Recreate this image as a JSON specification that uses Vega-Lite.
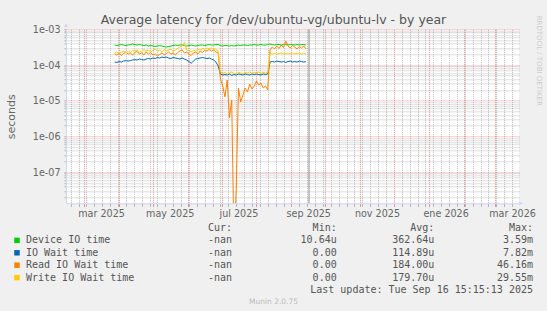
{
"$schema": "https://vega.github.io/schema/vega-lite/v6.json",
"width": 453, "height": 174,
"autosize": "none",
"padding": {"left": 66, "top": 29.3, "right": 28, "bottom": 107.7},
"background": "#F0F0F0",
"config": {"view": {"fill": "#FFFFFF", "stroke": null}, "font": "DejaVu Sans"},
"resolve": {"scale": {"x": "independent", "y": "independent"}},
"layer": [
{
"data": {"values": [
{"t":"2025-03-28","s":"Device IO time","v":3.63e-4},{"t":"2025-03-30","s":"Device IO time","v":3.51e-4},{"t":"2025-04-01","s":"Device IO time","v":3.63e-4},{"t":"2025-04-03","s":"Device IO time","v":3.75e-4},{"t":"2025-04-05","s":"Device IO time","v":3.63e-4},{"t":"2025-04-07","s":"Device IO time","v":3.51e-4},{"t":"2025-04-09","s":"Device IO time","v":3.63e-4},{"t":"2025-04-11","s":"Device IO time","v":3.75e-4},{"t":"2025-04-13","s":"Device IO time","v":3.87e-4},{"t":"2025-04-15","s":"Device IO time","v":3.75e-4},{"t":"2025-04-17","s":"Device IO time","v":3.63e-4},{"t":"2025-04-19","s":"Device IO time","v":3.75e-4},{"t":"2025-04-21","s":"Device IO time","v":3.63e-4},{"t":"2025-04-23","s":"Device IO time","v":3.51e-4},{"t":"2025-04-25","s":"Device IO time","v":3.63e-4},{"t":"2025-04-27","s":"Device IO time","v":3.40e-4},{"t":"2025-04-29","s":"Device IO time","v":3.51e-4},{"t":"2025-05-01","s":"Device IO time","v":3.40e-4},{"t":"2025-05-03","s":"Device IO time","v":3.29e-4},{"t":"2025-05-05","s":"Device IO time","v":3.40e-4},{"t":"2025-05-07","s":"Device IO time","v":3.51e-4},{"t":"2025-05-09","s":"Device IO time","v":3.40e-4},{"t":"2025-05-11","s":"Device IO time","v":3.29e-4},{"t":"2025-05-13","s":"Device IO time","v":3.19e-4},{"t":"2025-05-15","s":"Device IO time","v":3.29e-4},{"t":"2025-05-17","s":"Device IO time","v":3.40e-4},{"t":"2025-05-19","s":"Device IO time","v":3.51e-4},{"t":"2025-05-21","s":"Device IO time","v":3.63e-4},{"t":"2025-05-23","s":"Device IO time","v":3.51e-4},{"t":"2025-05-25","s":"Device IO time","v":3.63e-4},{"t":"2025-05-27","s":"Device IO time","v":3.63e-4},{"t":"2025-05-29","s":"Device IO time","v":3.51e-4},{"t":"2025-05-31","s":"Device IO time","v":3.40e-4},{"t":"2025-06-02","s":"Device IO time","v":3.51e-4},{"t":"2025-06-04","s":"Device IO time","v":3.63e-4},{"t":"2025-06-06","s":"Device IO time","v":3.51e-4},{"t":"2025-06-08","s":"Device IO time","v":3.40e-4},{"t":"2025-06-10","s":"Device IO time","v":3.51e-4},{"t":"2025-06-12","s":"Device IO time","v":3.63e-4},{"t":"2025-06-14","s":"Device IO time","v":3.63e-4},{"t":"2025-06-16","s":"Device IO time","v":3.51e-4},{"t":"2025-06-18","s":"Device IO time","v":3.63e-4},{"t":"2025-06-20","s":"Device IO time","v":3.75e-4},{"t":"2025-06-22","s":"Device IO time","v":3.63e-4},{"t":"2025-06-24","s":"Device IO time","v":3.63e-4},{"t":"2025-06-26","s":"Device IO time","v":3.75e-4},{"t":"2025-06-28","s":"Device IO time","v":3.75e-4},{"t":"2025-06-30","s":"Device IO time","v":3.51e-4},{"t":"2025-07-02","s":"Device IO time","v":3.40e-4},{"t":"2025-07-04","s":"Device IO time","v":3.51e-4},{"t":"2025-07-06","s":"Device IO time","v":3.51e-4},{"t":"2025-07-08","s":"Device IO time","v":3.40e-4},{"t":"2025-07-10","s":"Device IO time","v":3.51e-4},{"t":"2025-07-12","s":"Device IO time","v":3.40e-4},{"t":"2025-07-14","s":"Device IO time","v":3.51e-4},{"t":"2025-07-16","s":"Device IO time","v":3.63e-4},{"t":"2025-07-18","s":"Device IO time","v":3.51e-4},{"t":"2025-07-20","s":"Device IO time","v":3.63e-4},{"t":"2025-07-22","s":"Device IO time","v":3.63e-4},{"t":"2025-07-24","s":"Device IO time","v":3.51e-4},{"t":"2025-07-26","s":"Device IO time","v":3.63e-4},{"t":"2025-07-28","s":"Device IO time","v":3.63e-4},{"t":"2025-07-30","s":"Device IO time","v":3.75e-4},{"t":"2025-08-01","s":"Device IO time","v":3.63e-4},{"t":"2025-08-03","s":"Device IO time","v":3.63e-4},{"t":"2025-08-05","s":"Device IO time","v":3.75e-4},{"t":"2025-08-07","s":"Device IO time","v":3.63e-4},{"t":"2025-08-09","s":"Device IO time","v":3.63e-4},{"t":"2025-08-11","s":"Device IO time","v":3.75e-4},{"t":"2025-08-13","s":"Device IO time","v":3.87e-4},{"t":"2025-08-15","s":"Device IO time","v":3.75e-4},{"t":"2025-08-17","s":"Device IO time","v":3.63e-4},{"t":"2025-08-19","s":"Device IO time","v":3.75e-4},{"t":"2025-08-21","s":"Device IO time","v":3.75e-4},{"t":"2025-08-23","s":"Device IO time","v":3.63e-4},{"t":"2025-08-25","s":"Device IO time","v":3.75e-4},{"t":"2025-08-27","s":"Device IO time","v":3.75e-4},{"t":"2025-08-29","s":"Device IO time","v":3.63e-4},{"t":"2025-08-31","s":"Device IO time","v":3.75e-4},{"t":"2025-09-02","s":"Device IO time","v":3.75e-4},{"t":"2025-09-04","s":"Device IO time","v":3.63e-4},{"t":"2025-09-06","s":"Device IO time","v":3.75e-4},{"t":"2025-09-08","s":"Device IO time","v":3.63e-4},{"t":"2025-09-10","s":"Device IO time","v":3.75e-4},{"t":"2025-09-12","s":"Device IO time","v":3.75e-4},{"t":"2025-09-14","s":"Device IO time","v":3.63e-4},
{"t":"2025-03-28","s":"IO Wait time","v":1.21e-4},{"t":"2025-03-30","s":"IO Wait time","v":1.18e-4},{"t":"2025-04-01","s":"IO Wait time","v":1.25e-4},{"t":"2025-04-03","s":"IO Wait time","v":1.21e-4},{"t":"2025-04-05","s":"IO Wait time","v":1.29e-4},{"t":"2025-04-07","s":"IO Wait time","v":1.33e-4},{"t":"2025-04-09","s":"IO Wait time","v":1.29e-4},{"t":"2025-04-11","s":"IO Wait time","v":1.33e-4},{"t":"2025-04-13","s":"IO Wait time","v":1.38e-4},{"t":"2025-04-15","s":"IO Wait time","v":1.42e-4},{"t":"2025-04-17","s":"IO Wait time","v":1.38e-4},{"t":"2025-04-19","s":"IO Wait time","v":1.47e-4},{"t":"2025-04-21","s":"IO Wait time","v":1.42e-4},{"t":"2025-04-23","s":"IO Wait time","v":1.38e-4},{"t":"2025-04-25","s":"IO Wait time","v":1.47e-4},{"t":"2025-04-27","s":"IO Wait time","v":1.52e-4},{"t":"2025-04-29","s":"IO Wait time","v":1.47e-4},{"t":"2025-05-01","s":"IO Wait time","v":1.57e-4},{"t":"2025-05-03","s":"IO Wait time","v":1.52e-4},{"t":"2025-05-05","s":"IO Wait time","v":1.62e-4},{"t":"2025-05-07","s":"IO Wait time","v":1.57e-4},{"t":"2025-05-09","s":"IO Wait time","v":1.67e-4},{"t":"2025-05-11","s":"IO Wait time","v":1.62e-4},{"t":"2025-05-13","s":"IO Wait time","v":1.67e-4},{"t":"2025-05-15","s":"IO Wait time","v":1.57e-4},{"t":"2025-05-17","s":"IO Wait time","v":1.52e-4},{"t":"2025-05-19","s":"IO Wait time","v":1.62e-4},{"t":"2025-05-21","s":"IO Wait time","v":1.57e-4},{"t":"2025-05-23","s":"IO Wait time","v":1.52e-4},{"t":"2025-05-25","s":"IO Wait time","v":1.47e-4},{"t":"2025-05-27","s":"IO Wait time","v":1.57e-4},{"t":"2025-05-29","s":"IO Wait time","v":1.47e-4},{"t":"2025-05-31","s":"IO Wait time","v":1.38e-4},{"t":"2025-06-02","s":"IO Wait time","v":1.25e-4},{"t":"2025-06-04","s":"IO Wait time","v":1.12e-4},{"t":"2025-06-06","s":"IO Wait time","v":1.29e-4},{"t":"2025-06-08","s":"IO Wait time","v":1.47e-4},{"t":"2025-06-10","s":"IO Wait time","v":1.52e-4},{"t":"2025-06-12","s":"IO Wait time","v":1.57e-4},{"t":"2025-06-14","s":"IO Wait time","v":1.62e-4},{"t":"2025-06-16","s":"IO Wait time","v":1.57e-4},{"t":"2025-06-18","s":"IO Wait time","v":1.52e-4},{"t":"2025-06-20","s":"IO Wait time","v":1.57e-4},{"t":"2025-06-22","s":"IO Wait time","v":1.47e-4},{"t":"2025-06-24","s":"IO Wait time","v":1.38e-4},{"t":"2025-06-26","s":"IO Wait time","v":1.21e-4},{"t":"2025-06-28","s":"IO Wait time","v":9.4e-5},{"t":"2025-06-30","s":"IO Wait time","v":5.6e-5},{"t":"2025-07-02","s":"IO Wait time","v":5.25e-5},{"t":"2025-07-04","s":"IO Wait time","v":5.4e-5},{"t":"2025-07-06","s":"IO Wait time","v":5.25e-5},{"t":"2025-07-08","s":"IO Wait time","v":5.6e-5},{"t":"2025-07-10","s":"IO Wait time","v":5.1e-5},{"t":"2025-07-12","s":"IO Wait time","v":5.4e-5},{"t":"2025-07-14","s":"IO Wait time","v":5.25e-5},{"t":"2025-07-16","s":"IO Wait time","v":5.6e-5},{"t":"2025-07-18","s":"IO Wait time","v":5.4e-5},{"t":"2025-07-20","s":"IO Wait time","v":5.25e-5},{"t":"2025-07-22","s":"IO Wait time","v":5.6e-5},{"t":"2025-07-24","s":"IO Wait time","v":5.4e-5},{"t":"2025-07-26","s":"IO Wait time","v":5.25e-5},{"t":"2025-07-28","s":"IO Wait time","v":5.6e-5},{"t":"2025-07-30","s":"IO Wait time","v":5.4e-5},{"t":"2025-08-01","s":"IO Wait time","v":5.6e-5},{"t":"2025-08-03","s":"IO Wait time","v":5.4e-5},{"t":"2025-08-05","s":"IO Wait time","v":5.25e-5},{"t":"2025-08-07","s":"IO Wait time","v":5.6e-5},{"t":"2025-08-09","s":"IO Wait time","v":5.4e-5},{"t":"2025-08-11","s":"IO Wait time","v":5.6e-5},{"t":"2025-08-13","s":"IO Wait time","v":1.21e-4},{"t":"2025-08-15","s":"IO Wait time","v":1.25e-4},{"t":"2025-08-17","s":"IO Wait time","v":1.21e-4},{"t":"2025-08-19","s":"IO Wait time","v":1.29e-4},{"t":"2025-08-21","s":"IO Wait time","v":1.25e-4},{"t":"2025-08-23","s":"IO Wait time","v":1.21e-4},{"t":"2025-08-25","s":"IO Wait time","v":1.25e-4},{"t":"2025-08-27","s":"IO Wait time","v":1.18e-4},{"t":"2025-08-29","s":"IO Wait time","v":1.25e-4},{"t":"2025-08-31","s":"IO Wait time","v":1.29e-4},{"t":"2025-09-02","s":"IO Wait time","v":1.21e-4},{"t":"2025-09-04","s":"IO Wait time","v":1.25e-4},{"t":"2025-09-06","s":"IO Wait time","v":1.21e-4},{"t":"2025-09-08","s":"IO Wait time","v":1.29e-4},{"t":"2025-09-10","s":"IO Wait time","v":1.25e-4},{"t":"2025-09-12","s":"IO Wait time","v":1.21e-4},{"t":"2025-09-14","s":"IO Wait time","v":1.25e-4},
{"t":"2025-03-28","s":"Read IO Wait time","v":2.03e-4},{"t":"2025-03-30","s":"Read IO Wait time","v":1.91e-4},{"t":"2025-04-01","s":"Read IO Wait time","v":2.17e-4},{"t":"2025-04-03","s":"Read IO Wait time","v":1.85e-4},{"t":"2025-04-05","s":"Read IO Wait time","v":2.10e-4},{"t":"2025-04-07","s":"Read IO Wait time","v":2.31e-4},{"t":"2025-04-09","s":"Read IO Wait time","v":2.03e-4},{"t":"2025-04-11","s":"Read IO Wait time","v":2.17e-4},{"t":"2025-04-13","s":"Read IO Wait time","v":1.91e-4},{"t":"2025-04-15","s":"Read IO Wait time","v":2.24e-4},{"t":"2025-04-17","s":"Read IO Wait time","v":2.39e-4},{"t":"2025-04-19","s":"Read IO Wait time","v":2.03e-4},{"t":"2025-04-21","s":"Read IO Wait time","v":2.17e-4},{"t":"2025-04-23","s":"Read IO Wait time","v":1.91e-4},{"t":"2025-04-25","s":"Read IO Wait time","v":2.31e-4},{"t":"2025-04-27","s":"Read IO Wait time","v":2.03e-4},{"t":"2025-04-29","s":"Read IO Wait time","v":2.24e-4},{"t":"2025-05-01","s":"Read IO Wait time","v":1.91e-4},{"t":"2025-05-03","s":"Read IO Wait time","v":2.03e-4},{"t":"2025-05-05","s":"Read IO Wait time","v":1.79e-4},{"t":"2025-05-07","s":"Read IO Wait time","v":1.97e-4},{"t":"2025-05-09","s":"Read IO Wait time","v":2.17e-4},{"t":"2025-05-11","s":"Read IO Wait time","v":1.91e-4},{"t":"2025-05-13","s":"Read IO Wait time","v":2.10e-4},{"t":"2025-05-15","s":"Read IO Wait time","v":2.31e-4},{"t":"2025-05-17","s":"Read IO Wait time","v":2.03e-4},{"t":"2025-05-19","s":"Read IO Wait time","v":2.17e-4},{"t":"2025-05-21","s":"Read IO Wait time","v":1.91e-4},{"t":"2025-05-23","s":"Read IO Wait time","v":2.24e-4},{"t":"2025-05-25","s":"Read IO Wait time","v":2.47e-4},{"t":"2025-05-27","s":"Read IO Wait time","v":2.63e-4},{"t":"2025-05-29","s":"Read IO Wait time","v":2.17e-4},{"t":"2025-05-31","s":"Read IO Wait time","v":2.31e-4},{"t":"2025-06-02","s":"Read IO Wait time","v":2.03e-4},{"t":"2025-06-04","s":"Read IO Wait time","v":1.85e-4},{"t":"2025-06-06","s":"Read IO Wait time","v":2.17e-4},{"t":"2025-06-08","s":"Read IO Wait time","v":2.31e-4},{"t":"2025-06-10","s":"Read IO Wait time","v":2.03e-4},{"t":"2025-06-12","s":"Read IO Wait time","v":2.47e-4},{"t":"2025-06-14","s":"Read IO Wait time","v":2.24e-4},{"t":"2025-06-16","s":"Read IO Wait time","v":2.55e-4},{"t":"2025-06-18","s":"Read IO Wait time","v":2.47e-4},{"t":"2025-06-20","s":"Read IO Wait time","v":2.72e-4},{"t":"2025-06-22","s":"Read IO Wait time","v":2.47e-4},{"t":"2025-06-24","s":"Read IO Wait time","v":2.63e-4},{"t":"2025-06-26","s":"Read IO Wait time","v":2.31e-4},{"t":"2025-06-28","s":"Read IO Wait time","v":2.17e-4},{"t":"2025-06-30","s":"Read IO Wait time","v":4.05e-5},{"t":"2025-07-02","s":"Read IO Wait time","v":2.58e-5},{"t":"2025-07-04","s":"Read IO Wait time","v":1.28e-5},{"t":"2025-07-06","s":"Read IO Wait time","v":3.8e-5},{"t":"2025-07-08","s":"Read IO Wait time","v":3.3e-6},{"t":"2025-07-10","s":"Read IO Wait time","v":1.05e-5},{"t":"2025-07-12","s":"Read IO Wait time","v":1e-9},{"t":"2025-07-14","s":"Read IO Wait time","v":3.2e-8},{"t":"2025-07-16","s":"Read IO Wait time","v":2.27e-5},{"t":"2025-07-18","s":"Read IO Wait time","v":9.2e-6},{"t":"2025-07-20","s":"Read IO Wait time","v":1.45e-5},{"t":"2025-07-22","s":"Read IO Wait time","v":2.27e-5},{"t":"2025-07-24","s":"Read IO Wait time","v":1.75e-5},{"t":"2025-07-26","s":"Read IO Wait time","v":2.93e-5},{"t":"2025-07-28","s":"Read IO Wait time","v":2.13e-5},{"t":"2025-07-30","s":"Read IO Wait time","v":2.58e-5},{"t":"2025-08-01","s":"Read IO Wait time","v":3.56e-5},{"t":"2025-08-03","s":"Read IO Wait time","v":2.75e-5},{"t":"2025-08-05","s":"Read IO Wait time","v":3.13e-5},{"t":"2025-08-07","s":"Read IO Wait time","v":2.27e-5},{"t":"2025-08-09","s":"Read IO Wait time","v":2.58e-5},{"t":"2025-08-11","s":"Read IO Wait time","v":2.0e-5},{"t":"2025-08-13","s":"Read IO Wait time","v":2.63e-4},{"t":"2025-08-15","s":"Read IO Wait time","v":3.19e-4},{"t":"2025-08-17","s":"Read IO Wait time","v":2.81e-4},{"t":"2025-08-19","s":"Read IO Wait time","v":3.40e-4},{"t":"2025-08-21","s":"Read IO Wait time","v":2.90e-4},{"t":"2025-08-23","s":"Read IO Wait time","v":3.63e-4},{"t":"2025-08-25","s":"Read IO Wait time","v":3.09e-4},{"t":"2025-08-27","s":"Read IO Wait time","v":4.70e-4},{"t":"2025-08-29","s":"Read IO Wait time","v":3.40e-4},{"t":"2025-08-31","s":"Read IO Wait time","v":2.99e-4},{"t":"2025-09-02","s":"Read IO Wait time","v":3.51e-4},{"t":"2025-09-04","s":"Read IO Wait time","v":3.19e-4},{"t":"2025-09-06","s":"Read IO Wait time","v":2.81e-4},{"t":"2025-09-08","s":"Read IO Wait time","v":3.29e-4},{"t":"2025-09-10","s":"Read IO Wait time","v":2.99e-4},{"t":"2025-09-12","s":"Read IO Wait time","v":3.40e-4},{"t":"2025-09-14","s":"Read IO Wait time","v":2.81e-4},
{"t":"2025-03-28","s":"Write IO Wait time","v":2.17e-4},{"t":"2025-03-30","s":"Write IO Wait time","v":2.31e-4},{"t":"2025-04-01","s":"Write IO Wait time","v":2.10e-4},{"t":"2025-04-03","s":"Write IO Wait time","v":2.31e-4},{"t":"2025-04-05","s":"Write IO Wait time","v":2.39e-4},{"t":"2025-04-07","s":"Write IO Wait time","v":2.17e-4},{"t":"2025-04-09","s":"Write IO Wait time","v":2.47e-4},{"t":"2025-04-11","s":"Write IO Wait time","v":2.24e-4},{"t":"2025-04-13","s":"Write IO Wait time","v":2.55e-4},{"t":"2025-04-15","s":"Write IO Wait time","v":2.47e-4},{"t":"2025-04-17","s":"Write IO Wait time","v":2.63e-4},{"t":"2025-04-19","s":"Write IO Wait time","v":2.31e-4},{"t":"2025-04-21","s":"Write IO Wait time","v":2.39e-4},{"t":"2025-04-23","s":"Write IO Wait time","v":2.72e-4},{"t":"2025-04-25","s":"Write IO Wait time","v":2.47e-4},{"t":"2025-04-27","s":"Write IO Wait time","v":2.63e-4},{"t":"2025-04-29","s":"Write IO Wait time","v":2.31e-4},{"t":"2025-05-01","s":"Write IO Wait time","v":2.55e-4},{"t":"2025-05-03","s":"Write IO Wait time","v":2.81e-4},{"t":"2025-05-05","s":"Write IO Wait time","v":2.47e-4},{"t":"2025-05-07","s":"Write IO Wait time","v":2.63e-4},{"t":"2025-05-09","s":"Write IO Wait time","v":2.31e-4},{"t":"2025-05-11","s":"Write IO Wait time","v":2.72e-4},{"t":"2025-05-13","s":"Write IO Wait time","v":2.47e-4},{"t":"2025-05-15","s":"Write IO Wait time","v":2.63e-4},{"t":"2025-05-17","s":"Write IO Wait time","v":2.81e-4},{"t":"2025-05-19","s":"Write IO Wait time","v":2.39e-4},{"t":"2025-05-21","s":"Write IO Wait time","v":2.63e-4},{"t":"2025-05-23","s":"Write IO Wait time","v":2.90e-4},{"t":"2025-05-25","s":"Write IO Wait time","v":3.19e-4},{"t":"2025-05-27","s":"Write IO Wait time","v":3.40e-4},{"t":"2025-05-29","s":"Write IO Wait time","v":4.27e-4},{"t":"2025-05-31","s":"Write IO Wait time","v":2.63e-4},{"t":"2025-06-02","s":"Write IO Wait time","v":2.47e-4},{"t":"2025-06-04","s":"Write IO Wait time","v":2.31e-4},{"t":"2025-06-06","s":"Write IO Wait time","v":2.55e-4},{"t":"2025-06-08","s":"Write IO Wait time","v":2.47e-4},{"t":"2025-06-10","s":"Write IO Wait time","v":2.72e-4},{"t":"2025-06-12","s":"Write IO Wait time","v":2.63e-4},{"t":"2025-06-14","s":"Write IO Wait time","v":2.90e-4},{"t":"2025-06-16","s":"Write IO Wait time","v":2.81e-4},{"t":"2025-06-18","s":"Write IO Wait time","v":2.99e-4},{"t":"2025-06-20","s":"Write IO Wait time","v":2.81e-4},{"t":"2025-06-22","s":"Write IO Wait time","v":2.99e-4},{"t":"2025-06-24","s":"Write IO Wait time","v":2.90e-4},{"t":"2025-06-26","s":"Write IO Wait time","v":2.72e-4},{"t":"2025-06-28","s":"Write IO Wait time","v":2.47e-4},{"t":"2025-06-30","s":"Write IO Wait time","v":6.4e-5},{"t":"2025-07-02","s":"Write IO Wait time","v":5.8e-5},{"t":"2025-07-04","s":"Write IO Wait time","v":6.2e-5},{"t":"2025-07-06","s":"Write IO Wait time","v":5.6e-5},{"t":"2025-07-08","s":"Write IO Wait time","v":6.0e-5},{"t":"2025-07-10","s":"Write IO Wait time","v":6.4e-5},{"t":"2025-07-12","s":"Write IO Wait time","v":5.8e-5},{"t":"2025-07-14","s":"Write IO Wait time","v":5.6e-5},{"t":"2025-07-16","s":"Write IO Wait time","v":6.2e-5},{"t":"2025-07-18","s":"Write IO Wait time","v":6.0e-5},{"t":"2025-07-20","s":"Write IO Wait time","v":5.6e-5},{"t":"2025-07-22","s":"Write IO Wait time","v":6.2e-5},{"t":"2025-07-24","s":"Write IO Wait time","v":6.0e-5},{"t":"2025-07-26","s":"Write IO Wait time","v":6.4e-5},{"t":"2025-07-28","s":"Write IO Wait time","v":5.8e-5},{"t":"2025-07-30","s":"Write IO Wait time","v":6.2e-5},{"t":"2025-08-01","s":"Write IO Wait time","v":6.0e-5},{"t":"2025-08-03","s":"Write IO Wait time","v":6.4e-5},{"t":"2025-08-05","s":"Write IO Wait time","v":5.8e-5},{"t":"2025-08-07","s":"Write IO Wait time","v":6.2e-5},{"t":"2025-08-09","s":"Write IO Wait time","v":6.0e-5},{"t":"2025-08-11","s":"Write IO Wait time","v":6.2e-5},{"t":"2025-08-13","s":"Write IO Wait time","v":2.17e-4},{"t":"2025-08-15","s":"Write IO Wait time","v":2.03e-4},{"t":"2025-08-17","s":"Write IO Wait time","v":2.10e-4},{"t":"2025-08-19","s":"Write IO Wait time","v":2.03e-4},{"t":"2025-08-21","s":"Write IO Wait time","v":2.10e-4},{"t":"2025-08-23","s":"Write IO Wait time","v":2.17e-4},{"t":"2025-08-25","s":"Write IO Wait time","v":2.03e-4},{"t":"2025-08-27","s":"Write IO Wait time","v":2.10e-4},{"t":"2025-08-29","s":"Write IO Wait time","v":2.03e-4},{"t":"2025-08-31","s":"Write IO Wait time","v":2.10e-4},{"t":"2025-09-02","s":"Write IO Wait time","v":2.17e-4},{"t":"2025-09-04","s":"Write IO Wait time","v":2.03e-4},{"t":"2025-09-06","s":"Write IO Wait time","v":2.10e-4},{"t":"2025-09-08","s":"Write IO Wait time","v":2.17e-4},{"t":"2025-09-10","s":"Write IO Wait time","v":2.03e-4},{"t":"2025-09-12","s":"Write IO Wait time","v":2.10e-4},{"t":"2025-09-14","s":"Write IO Wait time","v":2.03e-4}
]},
"layer": [
{
"mark": {"type": "line", "strokeWidth": 1, "clip": true},
"encoding": {
"x": {"field": "t", "type": "temporal",
 "scale": {"domain": [{"year":2025,"month":2,"date":12,"hours":20,"minutes":10},{"year":2026,"month":3,"date":22,"hours":2,"minutes":50}], "nice": false},
 "axis": {"title": null, "tickCount": 500,
  "values": [{"year":2025,"month":2,"date":17},{"year":2025,"month":2,"date":24},{"year":2025,"month":3,"date":1},{"year":2025,"month":3,"date":3},{"year":2025,"month":3,"date":10},{"year":2025,"month":3,"date":17},{"year":2025,"month":3,"date":24},{"year":2025,"month":3,"date":31},{"year":2025,"month":4,"date":1},{"year":2025,"month":4,"date":7},{"year":2025,"month":4,"date":14},{"year":2025,"month":4,"date":21},{"year":2025,"month":4,"date":28},{"year":2025,"month":5,"date":1},{"year":2025,"month":5,"date":5},{"year":2025,"month":5,"date":12},{"year":2025,"month":5,"date":19},{"year":2025,"month":5,"date":26},{"year":2025,"month":6,"date":1},{"year":2025,"month":6,"date":2},{"year":2025,"month":6,"date":9},{"year":2025,"month":6,"date":16},{"year":2025,"month":6,"date":23},{"year":2025,"month":6,"date":30},{"year":2025,"month":7,"date":1},{"year":2025,"month":7,"date":7},{"year":2025,"month":7,"date":14},{"year":2025,"month":7,"date":21},{"year":2025,"month":7,"date":28},{"year":2025,"month":8,"date":1},{"year":2025,"month":8,"date":4},{"year":2025,"month":8,"date":11},{"year":2025,"month":8,"date":18},{"year":2025,"month":8,"date":25},{"year":2025,"month":9,"date":1},{"year":2025,"month":9,"date":8},{"year":2025,"month":9,"date":15},{"year":2025,"month":9,"date":22},{"year":2025,"month":9,"date":29},{"year":2025,"month":10,"date":1},{"year":2025,"month":10,"date":6},{"year":2025,"month":10,"date":13},{"year":2025,"month":10,"date":20},{"year":2025,"month":10,"date":27},{"year":2025,"month":11,"date":1},{"year":2025,"month":11,"date":3},{"year":2025,"month":11,"date":10},{"year":2025,"month":11,"date":17},{"year":2025,"month":11,"date":24},{"year":2025,"month":12,"date":1},{"year":2025,"month":12,"date":8},{"year":2025,"month":12,"date":15},{"year":2025,"month":12,"date":22},{"year":2025,"month":12,"date":29},{"year":2026,"month":1,"date":1},{"year":2026,"month":1,"date":5},{"year":2026,"month":1,"date":12},{"year":2026,"month":1,"date":19},{"year":2026,"month":1,"date":26},{"year":2026,"month":2,"date":1},{"year":2026,"month":2,"date":2},{"year":2026,"month":2,"date":9},{"year":2026,"month":2,"date":16},{"year":2026,"month":2,"date":23},{"year":2026,"month":3,"date":1},{"year":2026,"month":3,"date":2},{"year":2026,"month":3,"date":9},{"year":2026,"month":3,"date":16}],
  "labelExpr": "date(datum.value) == 1 && month(datum.value) % 2 == 0 ? ['ene','feb','mar','abr','may','jun','jul','ago','sep','oct','nov','dic'][month(datum.value)] + ' ' + year(datum.value) : ''",
  "labelOffset": 16.85, "labelOverlap": false, "labelFlush": false,
  "labelFont": "DejaVu Sans", "labelFontSize": 9.6, "labelColor": "#666666", "labelPadding": 2,
  "grid": true, "gridDash": [1, 1],
  "gridColor": {"condition": {"test": "date(datum.value) == 1", "value": "#DE4F4F"}, "value": "#8F8F8F"},
  "gridOpacity": {"condition": {"test": "date(datum.value) == 1", "value": 0.6}, "value": 0.6},
  "tickColor": {"condition": {"test": "date(datum.value) == 1", "value": "#E58A8A"}, "value": "#B0B0B0"},
  "tickSize": 3, "domainColor": "#CFD6F8"}},
"y": {"field": "v", "type": "quantitative",
 "scale": {"type": "log", "domain": [1.34e-8, 1e-3], "nice": false, "zero": false},
 "axis": {"tickCount": 500,
  "values": [2e-8,3e-8,4e-8,5e-8,6e-8,7e-8,8e-8,9e-8,1e-7,2e-7,3e-7,4e-7,5e-7,6e-7,7e-7,8e-7,9e-7,1e-6,2e-6,3e-6,4e-6,5e-6,6e-6,7e-6,8e-6,9e-6,1e-5,2e-5,3e-5,4e-5,5e-5,6e-5,7e-5,8e-5,9e-5,1e-4,2e-4,3e-4,4e-4,5e-4,6e-4,7e-4,8e-4,9e-4,1e-3],
  "labelExpr": "abs(log(datum.value)/LN10 - round(log(datum.value)/LN10)) < 0.01 ? '1e-0' + (-round(log(datum.value)/LN10)) : ''",
  "labelOverlap": false, "labelFont": "DejaVu Sans", "labelFontSize": 9.6, "labelColor": "#666666", "labelPadding": 4,
  "grid": true, "gridDash": [1, 1],
  "gridColor": {"condition": {"test": "abs(log(datum.value)/LN10 - round(log(datum.value)/LN10)) < 0.01", "value": "#DE4F4F"}, "value": "#8F8F8F"},
  "gridOpacity": {"condition": {"test": "abs(log(datum.value)/LN10 - round(log(datum.value)/LN10)) < 0.01", "value": 0.6}, "value": 0.6},
  "tickColor": {"condition": {"test": "abs(log(datum.value)/LN10 - round(log(datum.value)/LN10)) < 0.01", "value": "#E58A8A"}, "value": "#B0B0B0"},
  "tickSize": 2, "domainColor": "#CFD6F8",
  "title": "seconds", "titleFont": "DejaVu Sans", "titleFontSize": 11, "titleFontWeight": "normal", "titleColor": "#666666",
  "titleX": -55, "titleY": 87, "titleAngle": -90, "titleAlign": "center", "titleBaseline": "middle"}},
"color": {"field": "s", "type": "nominal", "legend": null,
 "scale": {"domain": ["Device IO time", "IO Wait time", "Read IO Wait time", "Write IO Wait time"], "range": ["#00CC00", "#0066B3", "#FF8000", "#FFCC00"]}}
}
},
{
"data": {"values": [{"t": "2025-09-16T15:15:13"}]},
"mark": {"type": "rule", "color": "#8A8A8A", "strokeWidth": 1},
"encoding": {"x": {"field": "t", "type": "temporal"}}
},
{
"data": {"values": [{}]},
"mark": {"type": "point", "shape": "triangle-right", "filled": true, "size": 18, "color": "#CFD6F8", "opacity": 1, "xOffset": 2},
"encoding": {"x": {"datum": {"year":2026,"month":3,"date":22,"hours":2,"minutes":50}, "type": "temporal"}, "y": {"datum": 1.34e-8, "type": "quantitative"}}
},
{
"data": {"values": [{}]},
"mark": {"type": "point", "shape": "triangle-up", "filled": true, "size": 18, "color": "#CFD6F8", "opacity": 1, "yOffset": -4},
"encoding": {"x": {"datum": {"year":2025,"month":2,"date":12,"hours":20,"minutes":10}, "type": "temporal"}, "y": {"datum": 1e-3, "type": "quantitative"}}
}
]
},
{
"data": {"values": [
{"r": -2, "title": "Average latency for /dev/ubuntu-vg/ubuntu-lv - by year"},
{"r": -1, "wm": "RRDTOOL / TOBI OETIKER"},
{"r": 0, "cur": "Cur:\u00a0", "min": "Min:\u00a0\u00a0", "avg": "Avg:\u00a0\u00a0", "max": "Max:\u00a0\u00a0"},
{"r": 1, "s": "Device IO time", "cur": "-nan", "min": "10.64u", "avg": "362.64u", "max": "3.59m"},
{"r": 2, "s": "IO Wait time", "cur": "-nan", "min": "0.00\u00a0", "avg": "114.89u", "max": "7.82m"},
{"r": 3, "s": "Read IO Wait time", "cur": "-nan", "min": "0.00\u00a0", "avg": "184.00u", "max": "46.16m"},
{"r": 4, "s": "Write IO Wait time", "cur": "-nan", "min": "0.00\u00a0", "avg": "179.70u", "max": "29.55m"},
{"r": 5, "max": "Last update: Tue Sep 16 15:15:13 2025"},
{"r": 6, "mid": "Munin 2.0.75"}
]},
"layer": [
{
"transform": [{"filter": "datum.s != null"}],
"mark": {"type": "point", "shape": "square", "filled": true, "size": 30, "opacity": 1, "strokeWidth": 0},
"encoding": {
"x": {"datum": 0, "type": "quantitative", "scale": {"domain": [0,1,2,3,4,5,6], "range": [-49,-40,166,270.7,368.4,467,473], "nice": false, "zero": false}, "axis": null},
"y": {"field": "r", "type": "quantitative", "scale": {"domain": [-2,-1,0,5,6], "range": [-5.3,31.5,198.7,260.7,272.7], "nice": false, "zero": false}, "axis": null},
"color": {"field": "s", "type": "nominal", "legend": null}
}
},
{
"transform": [{"filter": "datum.s != null"}],
"mark": {"type": "text", "align": "left", "baseline": "middle", "font": "DejaVu Sans Mono", "fontSize": 10, "color": "#555555"},
"encoding": {"x": {"datum": 1, "type": "quantitative"}, "y": {"field": "r", "type": "quantitative"}, "text": {"field": "s"}}
},
{
"transform": [{"filter": "datum.cur != null"}],
"mark": {"type": "text", "align": "right", "baseline": "middle", "font": "DejaVu Sans Mono", "fontSize": 10, "color": "#555555"},
"encoding": {"x": {"datum": 2, "type": "quantitative"}, "y": {"field": "r", "type": "quantitative"}, "text": {"field": "cur"}}
},
{
"transform": [{"filter": "datum.min != null"}],
"mark": {"type": "text", "align": "right", "baseline": "middle", "font": "DejaVu Sans Mono", "fontSize": 10, "color": "#555555"},
"encoding": {"x": {"datum": 3, "type": "quantitative"}, "y": {"field": "r", "type": "quantitative"}, "text": {"field": "min"}}
},
{
"transform": [{"filter": "datum.avg != null"}],
"mark": {"type": "text", "align": "right", "baseline": "middle", "font": "DejaVu Sans Mono", "fontSize": 10, "color": "#555555"},
"encoding": {"x": {"datum": 4, "type": "quantitative"}, "y": {"field": "r", "type": "quantitative"}, "text": {"field": "avg"}}
},
{
"transform": [{"filter": "datum.max != null"}],
"mark": {"type": "text", "align": "right", "baseline": "middle", "font": "DejaVu Sans Mono", "fontSize": 10, "color": "#555555"},
"encoding": {"x": {"datum": 5, "type": "quantitative"}, "y": {"field": "r", "type": "quantitative"}, "text": {"field": "max"}}
},
{
"transform": [{"filter": "datum.mid != null"}],
"mark": {"type": "text", "align": "center", "baseline": "middle", "font": "DejaVu Sans", "fontSize": 7.5, "color": "#BBBBBB"},
"encoding": {"x": {"datum": 2.396, "type": "quantitative"}, "y": {"field": "r", "type": "quantitative"}, "text": {"field": "mid"}}
},
{
"transform": [{"filter": "datum.title != null"}],
"mark": {"type": "text", "align": "center", "baseline": "alphabetic", "font": "DejaVu Sans", "fontSize": 12.5, "color": "#555555"},
"encoding": {"x": {"datum": 2.396, "type": "quantitative"}, "y": {"field": "r", "type": "quantitative"}, "text": {"field": "title"}}
},
{
"transform": [{"filter": "datum.wm != null"}],
"mark": {"type": "text", "align": "center", "baseline": "middle", "angle": 90, "font": "DejaVu Sans", "fontSize": 7, "color": "#CCCCCC"},
"encoding": {"x": {"datum": 6, "type": "quantitative"}, "y": {"field": "r", "type": "quantitative"}, "text": {"field": "wm"}}
}
]
}
]
}
